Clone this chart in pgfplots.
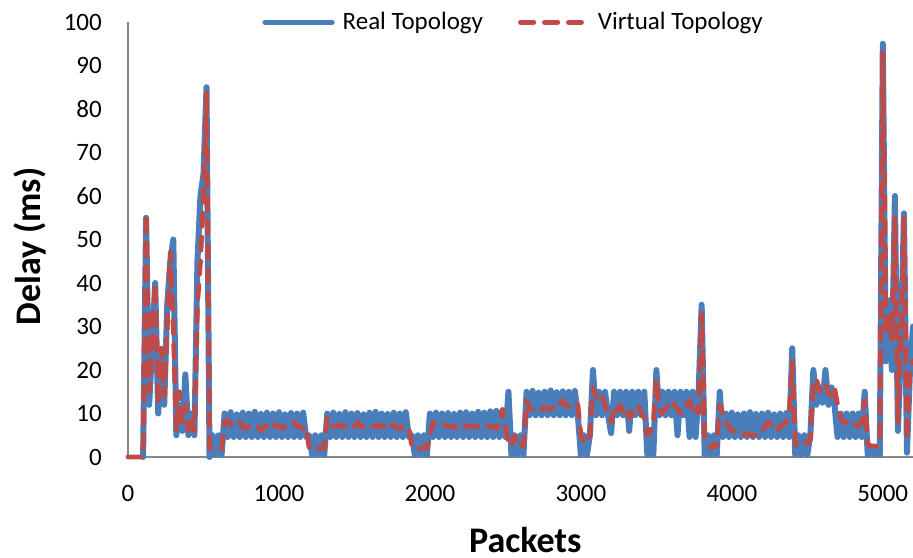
\documentclass[border=0pt]{standalone}
\usepackage{fontspec}
\setmainfont{Carlito}
\usepackage{pgfplots}
\usepackage{pgfplotstable}
\pgfplotsset{compat=1.18}

\definecolor{realblue}{RGB}{74,126,187}
\definecolor{virtred}{RGB}{190,75,72}
\definecolor{axisgray}{RGB}{134,134,134}

% Delay (ms) per sample, one sample every 20 packets.
% Real topology: first sample at packet 100.
\pgfplotstableread[row sep=\\]{delay\\
0\\ 55\\ 12\\ 25\\ 40\\ 10\\ 22\\ 12\\ 35\\ 45\\ 50\\ 5\\ 12\\ 6\\ 19\\ 5\\ 10\\ 5\\ 45\\ 60\\ 65\\ 85\\ 0\\ 5\\ 0.5\\ 5\\ 0.5\\
10\\ 4.6\\ 10.3\\ 4.6\\ 9.8\\ 4.6\\ 10.2\\ 4.6\\ 10\\ 4.6\\ 10.4\\ 4.6\\ 9.9\\ 4.6\\ 10.2\\ 4.6\\ 10\\ 4.6\\ 10.3\\ 4.6\\ 9.8\\ 4.6\\ 10.1\\ 4.6\\ 10\\ 4.6\\ 10.2\\ 4.6\\
5\\ 0.5\\ 5\\ 0.5\\ 5\\ 0.5\\
10\\ 4.6\\ 10.2\\ 4.6\\ 9.9\\ 4.6\\ 10.3\\ 4.6\\ 10\\ 4.6\\ 10.1\\ 4.6\\ 9.8\\ 4.6\\ 10.2\\ 4.6\\ 10.4\\ 4.6\\ 10\\ 4.6\\ 9.9\\ 4.6\\ 10.2\\ 4.6\\ 10\\ 4.6\\ 10.3\\ 4.6\\
5\\ 0.5\\ 5\\ 0.5\\ 5\\ 0.5\\
10\\ 4.6\\ 10.2\\ 4.6\\ 10\\ 4.6\\ 10.1\\ 4.6\\ 9.9\\ 4.6\\ 10.2\\ 4.6\\ 10.3\\ 4.6\\ 10\\ 4.6\\ 10.4\\ 4.6\\ 10.2\\ 4.6\\ 10.5\\ 4.6\\ 10.6\\ 4.6\\ 10.5\\ 4.6\\
15\\
0.5\\ 5\\ 0.5\\ 5\\ 0.5\\
15\\ 9.6\\ 15.2\\ 9.6\\ 14.8\\ 9.6\\ 15\\ 9.6\\ 15.3\\ 9.6\\ 14.9\\ 9.6\\ 15.1\\ 9.6\\ 15\\ 9.6\\ 15.2\\ 9.6\\
0.5\\ 5\\ 0.5\\ 5\\
20\\
9.6\\ 15\\ 9.6\\ 15\\ 9.6\\ 5.5\\ 15\\ 9.6\\ 15\\ 9.6\\ 15\\ 6\\ 15\\ 9.6\\ 15\\ 9.6\\ 15\\
0.5\\ 5\\ 0.5\\
20\\
9.6\\ 15\\ 9.6\\ 15\\ 9.6\\ 15\\ 5\\ 15\\ 9.6\\ 15\\ 4.6\\ 15\\ 4.6\\ 15\\
35\\
0.5\\ 5\\ 0.5\\ 5\\ 0.5\\
15\\
4.6\\ 10\\ 4.6\\ 10.2\\ 4.6\\ 9.8\\ 4.6\\ 10\\ 4.6\\ 10.3\\ 4.6\\ 9.9\\ 4.6\\ 10\\ 4.6\\ 10.2\\ 4.6\\ 9.8\\ 4.6\\ 10\\ 4.6\\ 10.1\\ 4.6\\
25\\
0.5\\ 5\\ 0.5\\ 5\\ 0.5\\ 5\\
20\\ 12\\ 16\\ 12.5\\ 20\\ 12\\ 16\\ 12\\
4.6\\ 10\\ 4.6\\ 10\\ 4.6\\ 10\\ 4.6\\ 10\\ 4.6\\
15\\
0.5\\ 2\\ 0.5\\ 2\\ 0.5\\
95\\ 22\\ 36\\ 20\\ 60\\ 6\\ 25\\ 56\\ 1\\ 20\\ 30\\
}\realdelay

% Virtual topology: first sample at packet 0.
\pgfplotstableread[row sep=\\]{delay\\
0\\ 0\\ 0\\ 0\\ 0\\ 0\\
56\\ 15\\ 28\\ 40\\ 12\\ 25\\ 14\\ 30\\ 47\\ 30\\ 6\\ 15\\ 8\\ 12\\ 6\\ 9\\ 6\\ 35\\ 45\\ 60\\ 84\\ 2\\ 2\\ 2.5\\ 2\\ 2\\
8\\ 8.5\\ 7.5\\ 7\\ 7\\ 8\\ 7\\ 6.5\\ 7\\ 7\\ 7.5\\ 7\\ 6\\ 7\\ 7\\ 7\\ 8\\ 7\\ 7\\ 6.5\\ 7\\ 7\\ 7\\ 8\\ 7\\ 7\\ 6.5\\ 7\\
2\\ 2\\ 2.5\\ 2\\ 2\\ 2\\
9\\ 8\\ 7\\ 7\\ 7.5\\ 7\\ 7\\ 6.5\\ 7\\ 7\\ 8\\ 7\\ 7\\ 7\\ 6.5\\ 7\\ 7\\ 7.5\\ 7\\ 7\\ 7\\ 8\\ 7\\ 7\\ 6.5\\ 7\\ 7\\ 7\\
2.5\\ 1.8\\ 2\\ 2\\ 2.2\\ 2\\
5\\ 8\\ 7.5\\ 7\\ 7\\ 7.5\\ 7\\ 7\\ 7\\ 6.5\\ 7\\ 7.5\\ 7\\ 7\\ 7\\ 7\\ 7\\ 6.5\\ 7\\ 7\\ 7\\ 7\\ 6.5\\ 8\\ 11\\ 7\\
3\\
2.5\\ 5\\ 2.5\\ 3\\ 2.5\\
13\\ 11\\ 11\\ 10.5\\ 11\\ 11\\ 11.5\\ 11\\ 11\\ 11.5\\ 11\\ 12\\ 13\\ 12\\ 11.5\\ 12\\ 12.5\\ 12\\
5\\ 3\\ 4\\ 5\\
16\\
14\\ 13\\ 14\\ 12\\ 10\\ 8\\ 11\\ 10\\ 12\\ 10\\ 11\\ 9\\ 10\\ 11\\ 12\\ 10\\ 9\\
5\\ 6\\ 8\\
18\\
11\\ 10\\ 11\\ 12\\ 13\\ 12\\ 11\\ 10\\ 12\\ 12\\ 13\\ 10\\ 11\\ 10\\
33\\
4\\ 3\\ 2\\ 3\\ 2.5\\
12\\
10\\ 8\\ 7\\ 6\\ 6\\ 5\\ 5\\ 5\\ 5.5\\ 5\\ 5\\ 5\\ 5\\ 6\\ 7\\ 8\\ 7.5\\ 6\\ 6\\ 7\\ 7.5\\ 8\\ 10\\
22\\
3\\ 2.5\\ 3\\ 3.5\\ 3\\ 4\\
17\\ 18\\ 15\\ 16\\ 17\\ 15\\ 14\\ 16\\
12\\ 9\\ 8\\ 8\\ 7\\ 7\\ 7.5\\ 7\\ 8\\
13\\
3\\ 2.5\\ 2.5\\ 2.5\\ 3\\
93\\ 28\\ 32\\ 27\\ 55\\ 8\\ 28\\ 55\\ 4\\ 20\\ 22\\
}\virtualdelay

\begin{document}
\begin{tikzpicture}
\path[use as bounding box] (-128pt,-100pt) rectangle (785pt,457pt);
\begin{axis}[
  scale only axis,
  width=785pt, height=435pt,
  at={(0pt,0pt)}, anchor=south west,
  xmin=0, xmax=5200, ymin=0, ymax=100,
  clip=false,
  axis x line*=bottom, axis y line*=left,
  axis line style={axisgray, line width=1.5pt},
  major tick length=0pt,
  xtick={0,1000,...,5000},
  ytick={0,10,...,100},
  /pgf/number format/assume math mode=true,
  /pgf/number format/1000 sep={},
  tick label style={font=\fontsize{25}{30}\selectfont, inner sep=0pt, text=black},
  xticklabel style={anchor=north, yshift=-28pt},
  yticklabel style={anchor=east, xshift=-26pt},
  xlabel={Packets}, ylabel={Delay (ms)},
  label style={font=\fontsize{36}{43}\selectfont\bfseries, inner sep=0pt},
  xlabel style={at={([yshift=-95pt]axis description cs:0.506,0)}, anchor=base},
  ylabel style={at={([xshift=-87pt]axis description cs:0,0.484)}, anchor=base},
  legend columns=2,
  legend style={at={(axis description cs:0.1713,1)}, anchor=west,
    draw=none, fill=none, inner sep=0pt, outer sep=0pt,
    cells={anchor=base west},
    nodes={inner sep=0pt, font=\fontsize{25}{30}\selectfont},
    /tikz/every odd column/.append style={column sep=8pt},
    /tikz/every even column/.append style={column sep=35pt}},
]
\addplot[realblue, line width=6pt, line join=round, line cap=round,
  legend image code/.code={\draw[line width=5.2pt] (0pt,7.6pt) -- (67pt,7.6pt);}]
  table[x expr=\coordindex*20+100, y=delay] {\realdelay};
\addplot[virtred, line width=4.8pt, line join=round, line cap=round,
  dash pattern=on 13.2pt off 10.8pt,
  legend image code/.code={\draw (0pt,7.6pt) -- (61pt,7.6pt); \path (67pt,7.6pt);}]
  table[x expr=\coordindex*20, y=delay] {\virtualdelay};
\legend{Real Topology, Virtual Topology}
\end{axis}
\end{tikzpicture}
\end{document}
